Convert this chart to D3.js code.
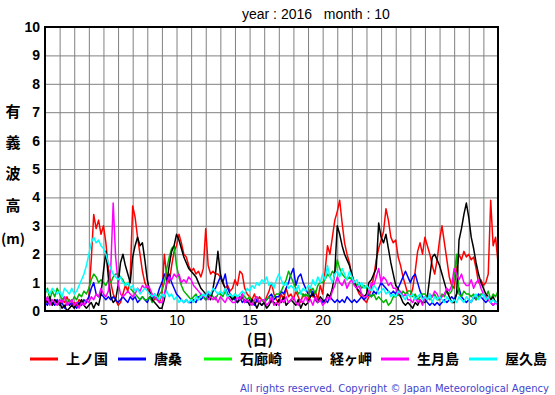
<!DOCTYPE html>
<html lang="ja">
<head>
<meta charset="UTF-8">
<title>有義波高 2016年10月</title>
<script src="https://d3js.org/d3.v7.min.js"></script>
<style>
  body { margin: 0; background: #fff; }
  svg { display: block; }
  .grid line { stroke: #808080; stroke-width: 1; }
  .grid path { display: none; }
  .ytick text { font: bold 14px "Liberation Sans", Arial, sans-serif; fill: #000; }
  .xtick text { font: 14px "Liberation Sans", Arial, sans-serif; fill: #000; }
  .jp { font-family: "Noto Sans CJK JP", sans-serif; font-weight: bold; }
</style>
</head>
<body>
<svg width="555" height="395"></svg>
<script>
// 6 values per day (every 4 hours), day 1.0 .. 32.0
const stations = ["上ノ国", "唐桑", "石廊崎", "経ヶ岬", "生月島", "屋久島"];
const lineColors = ["#ff0000", "#0000ff", "#00b400", "#000000", "#ff00ff", "#00ffff"];
const legendColors = ["#ff0000", "#0000ff", "#00ff00", "#000000", "#ff00ff", "#00ffff"];
const yTicks = [0, 1, 2, 3, 4, 5, 6, 7, 8, 9, 10];
const xLabels = [5, 10, 15, 20, 25, 30];

const kaminokuni = [
  0.5,0.3,0.4,0.2,0.4,0.3, 0.2,0.4,0.3,0.5,0.3,0.2, 0.3,0.2,0.4,0.3,0.2,0.3,
  0.5,1.8,3.4,2.9,3.2,2.7, 3.0,2.4,1.5,1.0,0.6,0.4, 0.2,0.3,0.6,0.9,0.7,1.2,
  3.7,3.3,2.6,2.0,1.4,1.0, 0.8,0.6,0.5,0.4,0.5,0.3, 0.6,2.0,1.2,1.0,1.6,2.1,
  2.3,2.7,2.4,2.0,1.9,1.6, 1.4,1.5,1.3,1.4,1.2,1.5, 2.9,1.6,1.3,1.4,1.3,1.3,
  1.2,1.0,0.8,0.9,0.7,0.8, 1.1,0.9,1.4,1.3,0.8,0.6, 0.5,0.4,0.6,0.3,0.5,0.4,
  0.3,0.5,0.7,1.0,0.6,0.4, 0.3,0.6,0.4,0.8,0.5,0.6, 0.4,0.7,0.5,0.3,0.6,0.5,
  0.4,0.8,0.5,0.7,0.4,0.9, 0.6,1.4,2.3,2.0,2.6,3.2, 3.5,3.9,3.1,2.4,2.0,1.7,
  1.2,1.0,0.8,0.6,0.5,0.4, 0.3,0.5,0.8,1.2,1.8,2.2, 2.5,2.8,3.6,3.2,2.6,2.4,
  2.5,1.9,1.6,1.2,0.9,0.6, 0.5,0.8,1.4,2.1,2.4,2.0, 2.6,2.3,2.0,1.6,1.3,1.8,
  2.5,3.0,2.4,1.8,1.2,0.9, 0.8,1.5,2.0,1.8,2.1,1.9, 2.0,1.8,1.9,1.5,1.0,1.1,
  0.9,1.0,1.3,3.9,2.3,2.6, 1.7
];
const karakuwa = [
  0.3,0.2,0.4,0.3,0.2,0.4, 0.2,0.3,0.1,0.3,0.2,0.3, 0.2,0.1,0.3,0.2,0.4,0.3,
  0.5,0.8,1.0,0.6,0.5,0.6, 0.5,0.4,0.5,0.4,0.5,0.4, 0.3,0.4,0.5,0.4,0.3,0.5,
  0.4,0.5,0.3,0.4,0.5,0.4, 0.3,0.5,0.4,0.6,0.5,0.8, 1.0,1.3,1.1,1.3,1.0,0.8,
  0.6,0.5,0.4,0.3,0.4,0.3, 0.3,0.4,0.3,0.5,0.4,0.5, 0.4,0.6,0.5,0.7,0.8,1.0,
  1.2,1.0,1.3,0.8,0.6,0.5, 0.4,0.3,0.5,0.3,0.4,0.3, 0.4,0.3,0.2,0.4,0.3,0.2,
  0.3,0.4,0.5,0.6,0.4,0.5, 0.5,0.7,0.6,0.8,1.0,1.3, 1.5,0.9,1.2,1.3,1.0,0.8,
  0.6,0.5,0.7,0.4,0.3,0.4, 0.3,0.4,0.3,0.5,0.4,0.3, 0.4,0.3,0.4,0.3,0.5,0.4,
  0.3,0.4,0.3,0.4,0.5,0.4, 0.5,0.6,0.5,0.7,0.6,0.8, 1.0,0.9,0.8,0.7,0.6,0.7,
  0.6,0.8,1.0,1.2,1.4,1.2, 1.0,1.2,1.3,1.0,0.7,0.5, 0.4,0.3,0.2,0.3,0.2,0.3,
  0.2,0.3,0.4,0.3,0.4,0.5, 0.4,0.6,0.8,0.5,0.4,0.3, 0.4,0.3,0.5,0.4,0.6,0.5,
  0.4,0.3,0.4,0.3,0.2,0.3, 0.3
];
const irozaki = [
  0.6,0.8,0.4,0.7,0.5,0.8, 0.6,0.4,0.5,0.3,0.4,0.3, 0.5,0.4,0.6,0.5,0.7,0.6,
  0.8,1.1,1.3,1.2,1.0,1.1, 1.0,0.9,1.1,1.0,1.2,1.3, 1.3,1.2,1.1,0.9,1.0,0.8,
  0.7,0.6,0.5,0.4,0.5,0.4, 0.4,0.5,0.3,0.5,0.4,0.6, 0.7,1.0,1.5,1.9,2.2,2.3,
  1.6,1.2,0.9,0.7,0.6,0.5, 0.4,0.5,0.6,0.4,0.6,0.5, 0.4,0.5,0.6,0.5,0.4,0.6,
  0.6,0.5,0.7,0.5,0.6,0.4, 0.6,0.5,0.4,0.6,0.5,0.4, 0.5,0.3,0.4,0.5,0.3,0.4,
  0.3,0.4,0.5,0.3,0.5,0.6, 0.6,0.7,0.9,1.1,1.4,1.2, 1.0,0.8,0.6,0.7,0.5,0.6,
  0.5,0.7,0.8,0.6,0.9,1.0, 1.0,1.1,1.3,1.2,1.4,1.3, 1.8,1.5,1.3,1.2,1.1,1.2,
  1.1,1.0,0.9,1.0,0.8,0.9, 0.8,0.6,0.5,0.6,0.4,0.5, 0.4,0.3,0.4,0.2,0.3,0.5,
  0.5,0.6,0.5,0.7,0.6,0.7, 0.7,0.5,0.6,0.4,0.5,0.6, 0.6,0.5,0.4,0.5,0.6,0.4,
  0.4,0.6,0.5,0.7,0.6,0.7, 1.2,2.0,0.6,0.5,0.7,0.6, 0.6,0.5,0.6,0.4,0.5,0.6,
  0.6,0.5,0.7,0.4,0.6,0.5, 0.7
];
const kyogamisaki = [
  0.4,0.3,0.5,0.2,0.4,0.3, 0.3,0.1,0.2,0.0,0.1,0.2, 0.1,0.3,0.2,0.4,0.2,0.1,
  0.2,0.3,0.1,0.3,0.2,0.6, 1.4,2.1,1.2,0.5,0.3,0.4, 0.9,1.7,2.0,1.6,1.3,1.0,
  1.9,2.3,2.6,2.3,2.4,1.8, 1.1,0.7,0.4,0.3,0.2,0.1, 0.1,0.4,1.0,1.6,2.1,2.3,
  2.7,2.5,2.2,1.9,1.7,1.5, 1.4,1.3,1.2,1.0,0.8,0.7, 0.6,0.5,0.4,0.8,1.3,2.1,
  1.3,1.0,0.8,0.6,0.5,0.4, 0.5,0.3,0.4,0.5,0.3,0.4, 0.2,0.4,0.3,0.1,0.3,0.2,
  0.3,0.1,0.2,0.4,0.3,0.2, 0.4,0.3,0.5,0.2,0.3,0.4, 0.3,0.2,0.4,0.1,0.3,0.2,
  0.3,0.5,0.6,0.4,0.3,0.5, 0.4,0.3,0.6,0.5,0.8,1.4, 3.0,2.7,2.3,2.0,1.8,1.6,
  1.3,1.0,0.8,0.7,0.6,0.5, 0.6,1.0,1.1,1.3,1.5,3.1, 2.6,2.4,2.7,2.2,1.7,1.3,
  0.9,0.8,0.5,0.3,0.2,0.3, 0.2,0.1,0.3,0.2,0.4,0.3, 0.3,0.5,1.2,1.9,2.0,1.8,
  1.6,1.3,1.0,0.7,0.5,0.3, 0.3,0.6,2.5,2.9,3.4,3.8, 3.3,2.6,2.2,1.7,1.3,1.0,
  0.8,0.6,0.5,0.4,0.5,0.3, 0.3
];
const ikitsukishima = [
  0.3,0.5,0.2,0.4,0.3,0.2, 0.4,0.3,0.5,0.2,0.3,0.4, 0.2,0.3,0.1,0.3,0.2,0.4,
  0.3,0.5,0.4,0.6,0.5,0.8, 0.6,0.5,0.7,1.5,3.8,1.9, 1.0,0.6,0.5,0.6,0.7,0.6,
  0.5,0.6,0.8,0.7,0.9,0.8, 0.9,0.8,0.6,0.5,0.4,0.3, 0.3,0.6,1.0,1.2,1.1,1.3,
  1.2,1.3,1.0,1.1,1.0,1.2, 1.1,0.9,0.8,0.7,0.6,0.5, 0.6,0.4,0.5,0.4,0.5,0.3,
  0.5,0.4,0.3,0.5,0.4,0.3, 0.3,0.5,0.4,0.6,0.3,0.4, 0.3,0.2,0.4,0.5,0.3,0.4,
  0.4,0.2,0.3,0.5,0.2,0.3, 0.2,0.4,0.3,0.5,0.3,0.4, 0.5,0.3,0.2,0.4,0.3,0.5,
  0.3,0.4,0.2,0.5,0.3,0.4, 0.2,0.3,0.5,0.4,0.7,0.9, 1.2,1.0,0.9,1.1,0.8,1.0,
  1.1,0.9,0.8,0.9,0.6,0.5, 0.5,0.7,1.0,0.9,1.2,1.5, 1.0,1.2,1.1,0.9,1.0,0.8,
  0.8,0.6,0.7,0.5,0.6,0.4, 0.4,0.3,0.5,0.3,0.4,0.2, 0.5,0.4,0.6,0.5,0.7,0.6,
  0.4,0.5,0.6,0.8,0.7,0.9, 1.5,1.3,1.1,1.3,1.0,0.9, 0.9,1.1,0.8,1.0,1.1,0.8,
  0.6,0.5,0.4,0.3,0.2,0.3, 0.2
];
const yakushima = [
  0.8,0.7,0.6,0.8,0.7,0.6, 0.7,0.5,0.8,0.7,0.6,0.8, 0.6,0.7,0.9,1.1,1.3,1.6,
  2.0,2.4,2.6,2.4,2.5,2.3, 2.2,2.0,1.7,1.5,1.3,1.2, 1.1,1.2,1.0,0.9,1.0,0.8,
  0.9,0.7,0.8,0.6,0.7,0.8, 0.7,0.6,0.5,0.6,0.5,0.4, 0.6,0.5,0.7,0.5,0.6,0.4,
  0.5,0.3,0.4,0.3,0.4,0.3, 0.4,0.3,0.5,0.4,0.5,0.6, 0.5,0.7,0.6,0.8,0.7,0.6,
  0.7,0.6,0.8,0.5,0.6,0.5, 0.6,0.5,0.6,0.7,0.6,0.8, 0.7,0.9,0.8,1.0,0.9,1.1,
  1.0,1.2,0.9,1.0,0.8,1.1, 1.3,1.1,0.9,1.0,0.8,0.9, 0.8,0.7,0.9,0.6,0.8,0.7,
  0.9,0.8,1.1,0.9,1.2,1.0, 1.3,1.1,1.6,1.2,1.0,1.3, 1.4,1.2,1.5,1.3,1.1,1.4,
  1.2,1.0,1.1,0.9,1.0,0.8, 0.9,0.8,0.7,0.9,0.8,0.6, 0.7,0.8,0.6,0.7,0.5,0.6,
  0.5,0.7,0.6,0.5,0.4,0.6, 0.5,0.6,0.4,0.5,0.6,0.4, 0.5,0.4,0.6,0.3,0.5,0.4,
  0.5,0.4,0.3,0.5,0.4,0.3, 0.4,0.3,0.5,0.4,0.3,0.5, 0.4,0.3,0.5,0.6,0.4,0.5,
  0.6,0.4,0.5,0.3,0.4,0.3, 0.3
];
const series = [kaminokuni, karakuwa, irozaki, kyogamisaki, ikitsukishima, yakushima];

const svg = d3.select("svg");
const plotLeft = 45, plotRight = 498, plotTop = 27, plotBottom = 311;

const x = d3.scaleLinear().domain([1, 32]).range([plotLeft, plotRight]);
const y = d3.scaleLinear().domain([0, 10]).range([plotBottom, plotTop]);

// title
svg.append("text")
    .attr("x", 242).attr("y", 19)
    .style("font", "14px 'Liberation Sans', Arial, sans-serif")
    .attr("xml:space", "preserve")
    .style("white-space", "pre")
    .text("year : 2016   month : 10");

// grid + tick labels
svg.append("g")
    .attr("class", "grid xtick")
    .attr("transform", `translate(0,${plotBottom})`)
    .call(d3.axisBottom(x).tickValues(d3.range(2, 32)).tickSize(-(plotBottom - plotTop)).tickPadding(4)
        .tickFormat(d => xLabels.includes(d) ? d : ""));

svg.append("g")
    .attr("class", "grid")
    .attr("transform", `translate(${plotLeft},0)`)
    .call(d3.axisLeft(y).tickValues(yTicks.slice(1, -1)).tickSize(-(plotRight - plotLeft)).tickFormat(""));

svg.append("g")
    .attr("class", "ytick")
    .selectAll("text")
    .data(yTicks)
    .join("text")
    .attr("x", plotLeft - 5)
    .attr("y", d => y(d))
    .attr("dy", "0.35em")
    .attr("text-anchor", "end")
    .text(d => d);

// lines
svg.append("clipPath").attr("id", "plot")
  .append("rect").attr("x", plotLeft).attr("y", plotTop)
  .attr("width", plotRight - plotLeft).attr("height", plotBottom - plotTop);

const line = d3.line()
    .x((d, i) => x(1 + i / 6))
    .y(d => y(d));

svg.append("g")
    .attr("clip-path", "url(#plot)")
    .selectAll("path")
    .data(series)
    .join("path")
    .attr("d", line)
    .attr("fill", "none")
    .attr("stroke", (d, i) => lineColors[i])
    .attr("stroke-width", 1.5)
    .attr("stroke-linejoin", "round");

// frame
svg.append("rect")
    .attr("x", plotLeft).attr("y", plotTop)
    .attr("width", plotRight - plotLeft).attr("height", plotBottom - plotTop)
    .attr("fill", "none").attr("stroke", "#000").attr("stroke-width", 2);

// y axis title, one char per row
const yTitle = [["有", 111], ["義", 142], ["波", 173], ["高", 205]];
svg.append("g").selectAll("text")
    .data(yTitle)
    .join("text")
    .attr("class", "jp")
    .attr("x", 13).attr("y", d => d[1])
    .attr("dy", "0.38em")
    .attr("text-anchor", "middle")
    .style("font-size", "15px")
    .text(d => d[0]);
svg.append("text")
    .attr("class", "jp")
    .attr("x", 13).attr("y", 239).attr("dy", "0.38em")
    .attr("text-anchor", "middle")
    .style("font-size", "14px")
    .text("(m)");

svg.append("text")
    .attr("class", "jp")
    .attr("x", 260).attr("y", 339).attr("dy", "0.38em")
    .attr("text-anchor", "middle")
    .style("font-size", "15px")
    .text("(日)");

// legend
const legendX = [30, 118, 204, 294, 381, 469];
const legend = svg.append("g").selectAll("g")
    .data(stations)
    .join("g")
    .attr("transform", (d, i) => `translate(${legendX[i]},359)`);
legend.append("line")
    .attr("x1", 0).attr("x2", 28)
    .attr("stroke", (d, i) => legendColors[i])
    .attr("stroke-width", 3);
legend.append("text")
    .attr("class", "jp")
    .attr("x", 36).attr("dy", "0.38em")
    .style("font-size", "14px")
    .text(d => d);

svg.append("text")
    .attr("x", 240).attr("y", 392)
    .attr("textLength", 309)
    .style("font", "10px 'DejaVu Sans', sans-serif")
    .attr("fill", "#4444cc")
    .text("All rights reserved. Copyright © Japan Meteorological Agency");
</script>
</body>
</html>
